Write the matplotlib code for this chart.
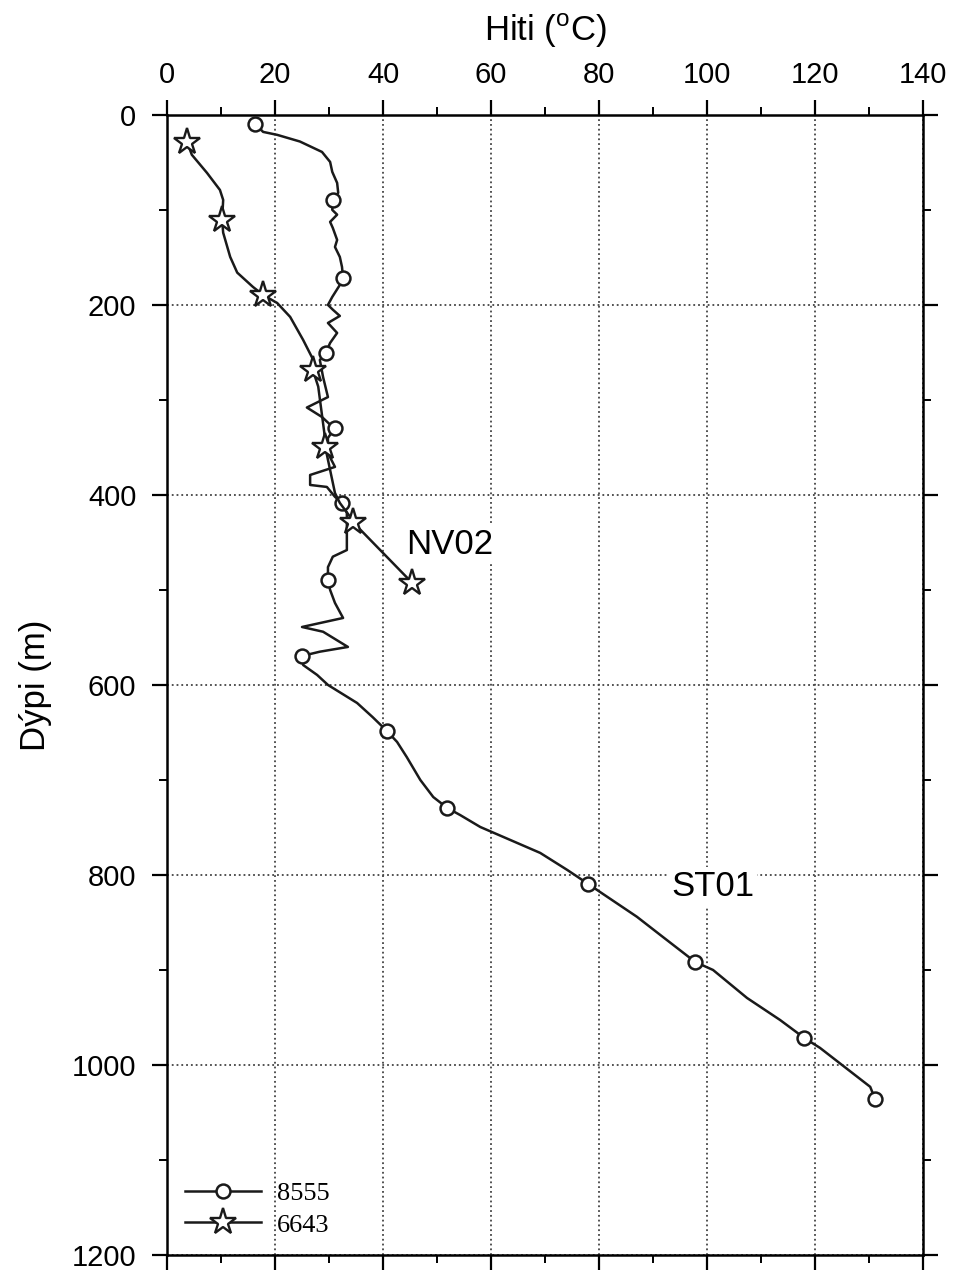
import matplotlib
matplotlib.use('Agg')
import matplotlib.pyplot as plt
from matplotlib.ticker import MultipleLocator

plt.rcParams['font.family'] = ['Liberation Sans', 'DejaVu Sans']
plt.rcParams['mathtext.fontset'] = 'custom'
plt.rcParams['mathtext.rm'] = 'Liberation Sans'

temp_8555 = [16.3, 17.8, 20.4, 24.6, 28.7, 30.2, 30.6, 31.5, 31.7, 30.7,
             30.6, 31.5, 30.2, 30.7, 31.5, 31.1, 32.0, 32.4, 32.6, 32.0,
             30.6, 29.8, 30.7, 32.0, 29.8, 31.5, 30.2, 29.4, 28.3, 28.9,
             29.8, 25.9, 28.7, 30.2, 31.1, 29.8, 29.8, 31.1, 26.5, 26.5,
             29.6, 31.1, 32.4, 33.3, 33.3, 33.3, 30.7, 29.8, 29.8, 30.2,
             31.1, 32.6, 25.0, 28.9, 33.5, 28.3, 25.0, 25.2, 27.8, 29.8,
             35.2, 38.1, 40.7, 42.6, 44.4, 46.9, 49.3, 51.9, 54.3, 58.0,
             69.1, 74.1, 78.0, 80.2, 87.0, 91.3, 97.8, 101.1, 107.4, 113.5,
             118.0, 120.9, 130.2, 131.1]
depth_8555 = [9.5, 17.9, 21, 28, 39, 49.5, 60, 71.6, 82, 89.5,
              100, 105, 112.6, 119, 131.6, 139, 149.5, 160, 171.6, 179,
              191.6, 200, 205, 211.6, 219, 229.5, 240, 250.5, 258, 276,
              297, 308, 318, 326, 329.5, 340, 356, 370.5, 379, 389.5,
              391.6, 402, 408.4, 419, 440, 458, 465, 476, 489.5, 500,
              513.7, 529.5, 539, 544, 560, 565, 569.5, 579, 589.5, 600,
              619, 634, 648.4, 660, 676, 700, 718, 729.5, 737, 749.5,
              776.8, 794.7, 809.5, 818, 844, 863, 891.6, 900, 929.5, 952.6,
              971.6, 982, 1023, 1035.8]
marks_8555 = [0, 9, 18, 27, 34, 42, 48, 56, 62, 67, 72, 76, 80, 83]

# well 6643 (NV02)
temp_6643 = [3.7, 4.6, 7.4, 9.8, 10.4, 10.2, 10.4, 11.7, 13.0, 15.9,
             17.8, 20.4, 22.8, 25.2, 26.9, 27.0, 28.0, 29.3, 29.3, 29.8,
             31.1, 32.0, 33.9, 34.4, 45.4]
depth_6643 = [28.4, 42, 61, 79, 89.5, 110.5, 124, 149.5, 166, 181,
              189.5, 198, 212.6, 236.8, 255.8, 268.4, 286, 342, 349.5, 363,
              398, 408.4, 423, 428.4, 492.6]
marks_6643 = [0, 5, 10, 15, 18, 23, 24]

fig = plt.figure(figsize=(9.62, 12.71), dpi=100)
ax = fig.add_axes([0.1736, 0.0126, 0.786, 0.897])

ax.plot(temp_8555, depth_8555, color='#1a1a1a', lw=1.8, marker='o', ms=10,
        mfc='white', mec='#1a1a1a', mew=1.8, markevery=marks_8555, label='8555', zorder=3)
ax.plot(temp_6643, depth_6643, color='#1a1a1a', lw=1.8, marker='*', ms=20,
        mfc='white', mec='#1a1a1a', mew=1.7, markevery=marks_6643, label='6643', zorder=3)

ax.set_xlim(0, 140)
ax.set_ylim(1200, 0)
ax.xaxis.set_major_locator(MultipleLocator(20))
ax.xaxis.set_minor_locator(MultipleLocator(10))
ax.yaxis.set_major_locator(MultipleLocator(200))
ax.yaxis.set_minor_locator(MultipleLocator(100))

ax.tick_params(axis='x', which='both', top=True, bottom=True, labeltop=True,
               labelbottom=False, direction='out')
ax.tick_params(axis='y', which='both', left=True, right=True, labelleft=True,
               labelright=False, direction='out')
ax.tick_params(which='major', length=11, width=1.6, labelsize=21)
ax.tick_params(axis='x', which='major', pad=8)
ax.tick_params(axis='y', which='major', pad=11)
ax.tick_params(which='minor', length=6, width=1.4)
for s in ax.spines.values():
    s.set_linewidth(1.8)

ax.grid(True, which='major', linestyle=':', color='#444444', lw=1.3)
for gl in ax.get_xgridlines():
    if abs(gl.get_xdata()[0] - 40) < 1e-6:
        gl.set_color('#8b1a1a')

ax.xaxis.set_label_position('top')
ax.set_xlabel(r'Hiti ($^{\mathrm{o}}$C)', fontsize=25, labelpad=14)
ax.set_ylabel('Dýpi (m)', fontsize=25, labelpad=14)

box = dict(facecolor='white', edgecolor='none', pad=2)
ax.text(52.3, 452, 'NV02', fontsize=25, ha='center', va='center', bbox=box, zorder=2)
ax.text(101, 812, 'ST01', fontsize=25, ha='center', va='center', bbox=box, zorder=2)

ax.legend(loc='lower left', bbox_to_anchor=(0.0, 0.0), frameon=False,
          prop={'family': 'Liberation Serif', 'size': 19}, handlelength=2.85,
          handletextpad=0.6, labelspacing=0.3, borderaxespad=0.3)

fig.savefig('out.png', dpi=100)
